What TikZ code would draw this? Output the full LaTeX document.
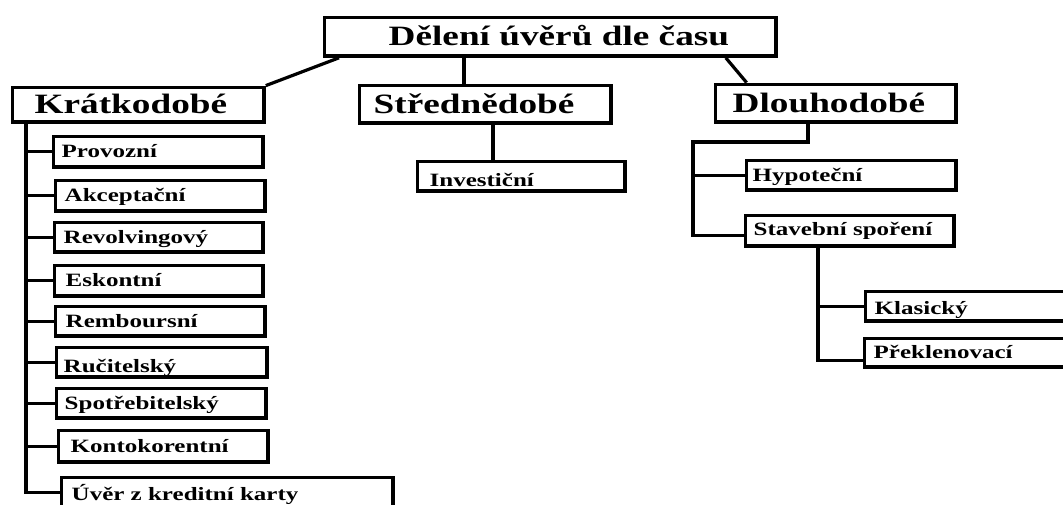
\documentclass[tikz,border=0pt]{standalone}
\usepackage{fontspec}
\setmainfont{Liberation Serif}[FakeStretch=1.33]
\usetikzlibrary{calc}
\newcommand{\bigf}{\fontsize{28}{30}\selectfont\bfseries}
\newcommand{\smallf}{\fontsize{18.8}{20}\selectfont\bfseries}
\begin{document}
\begin{tikzpicture}[x=1pt,y=-1pt,
  boxst/.style={draw, line width=3.4pt, inner sep=0pt, anchor=north west, align=left, text depth=0pt},
  bigbox/.style={boxst, font=\bigf, text height=18.5pt},
  smallbox/.style={boxst, font=\smallf, text height=12.4pt},
  conn/.style={line width=3.2pt}]
\fill[white] (0,0) rectangle (1063,504);
\useasboundingbox (0,0) rectangle (1063,504);
% top level
\node[bigbox, text width=451.8pt, minimum height=38.8pt] (title) at (322.6,15.6) {\hspace*{64.4pt}Dělení úvěrů dle času};
\node[bigbox, text width=251.8pt, minimum height=34.8pt] (kr) at (10.6,85.6) {\hspace*{22.4pt}Krátkodobé};
\node[bigbox, text width=251.8pt, minimum height=37.8pt] (st) at (357.6,83.6) {\hspace*{14.4pt}Střednědobé};
\node[bigbox, text width=240.8pt, minimum height=37.8pt] (dl) at (713.6,82.6) {\hspace*{17.4pt}Dlouhodobé};
% short-term children
\node[smallbox, text width=209.8pt, minimum height=30.8pt] (prov) at (51.6,134.6) {\hspace*{8.4pt}Provozní};
\node[smallbox, text width=209.8pt, minimum height=30.8pt] (akc) at (53.6,178.6) {\hspace*{9.4pt}Akceptační};
\node[smallbox, text width=208.8pt, minimum height=29.8pt] (rev) at (52.6,220.6) {\hspace*{9.4pt}Revolvingový};
\node[smallbox, text width=208.8pt, minimum height=30.8pt] (esk) at (52.6,263.6) {\hspace*{11.4pt}Eskontní};
\node[smallbox, text width=209.8pt, minimum height=29.8pt] (rem) at (53.6,304.6) {\hspace*{10.4pt}Remboursní};
\node[smallbox, text width=210.8pt, minimum height=29.8pt, text height=21.4pt] (ruc) at (54.6,345.6) {\hspace*{7.4pt}Ručitelský};
\node[smallbox, text width=209.8pt, minimum height=29.8pt] (spo) at (54.6,386.6) {\hspace*{8.4pt}Spotřebitelský};
\node[smallbox, text width=209.8pt, minimum height=31.8pt] (kon) at (56.6,428.6) {\hspace*{12.4pt}Kontokorentní};
\node[smallbox, text width=331.8pt, minimum height=30.8pt, text height=16.2pt] (uver) at (59.6,475.6) {\hspace*{10.4pt}Úvěr z kreditní karty};
% mid-term child
\node[smallbox, text width=207.8pt, minimum height=29.8pt, text height=20.4pt] (inv) at (415.6,159.6) {\hspace*{12.4pt}Investiční};
% long-term children
\node[smallbox, text width=209.8pt, minimum height=29.8pt] (hyp) at (744.6,158.6) {\hspace*{6.4pt}Hypoteční};
\node[smallbox, text width=208.8pt, minimum height=30.8pt, text depth=3pt] (sta) at (743.6,213.6) {\hspace*{8.4pt}Stavební spoření};
\node[smallbox, text width=209.8pt, minimum height=29.8pt, text height=16.4pt] (kla) at (863.6,289.6) {\hspace*{9.4pt}Klasický};
\node[smallbox, text width=210.8pt, minimum height=28.8pt] (pre) at (862.6,336.6) {\hspace*{9.4pt}Překlenovací};
% helper coordinates
\coordinate (kx) at (26,0);
\coordinate (sx) at (464,0);
\coordinate (ix) at (493,0);
\coordinate (dx) at (808,0);
\coordinate (dtop) at (693,142);
\coordinate (bx) at (818,0);
% connectors from title
\draw[conn] ($(title.south west)+(16.4,0)$) -- (kr.north east);
\draw[conn] (title.south -| sx) -- (st.north -| sx);
\draw[conn] ($(title.south east)+(-52,0)$) -- ($(dl.north west)+(33,0)$);
% short-term tree
\draw[conn] (kr.south -| kx) |- (uver.west);
\foreach \n in {prov,akc,rev,esk,rem,ruc,spo,kon}
  \draw[conn] (kx |- \n.west) -- (\n.west);
% mid-term
\draw[conn] (st.south -| ix) -- (inv.north -| ix);
% long-term tree
\draw[conn] (dl.south -| dx) |- (dtop) |- ($(sta.west)+(0,5)$);
\draw[conn] (dtop |- hyp.west) -- (hyp.west);
\draw[conn] (sta.south -| bx) |- ($(pre.west)+(0,8)$);
\draw[conn] (bx |- kla.west) -- (kla.west);
\end{tikzpicture}
\end{document}
